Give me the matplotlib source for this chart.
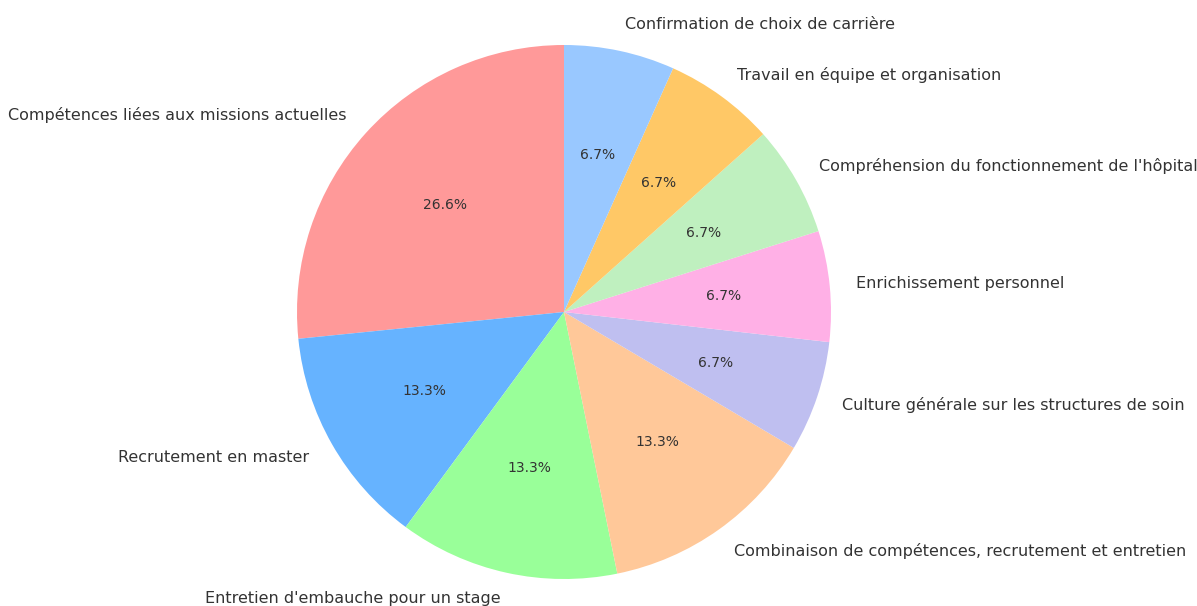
import matplotlib
matplotlib.use("Agg")
import matplotlib.pyplot as plt

labels = [
    "Compétences liées aux missions actuelles",
    "Recrutement en master",
    "Entretien d'embauche pour un stage",
    "Combinaison de compétences, recrutement et entretien",
    "Culture générale sur les structures de soin",
    "Enrichissement personnel",
    "Compréhension du fonctionnement de l'hôpital",
    "Travail en équipe et organisation",
    "Confirmation de choix de carrière",
]
values = [26.6, 13.3, 13.3, 13.3, 6.7, 6.7, 6.7, 6.7, 6.7]
colors = ["#ff9999", "#66b3ff", "#99ff99", "#ffc899", "#bfbff0",
          "#ffb0e6", "#bff0bf", "#ffc866", "#99c8ff"]

W, H = 1197, 606
cx, cy, R = 564, 312, 267

fig = plt.figure(figsize=(W / 100, H / 100), dpi=100)
ax = fig.add_axes([0, 0, 1, 1])
wedges, texts, autotexts = ax.pie(
    values, labels=labels, colors=colors, autopct="%1.1f%%",
    startangle=90, textprops={"color": "#333333"},
)
for t in texts:
    t.set_fontsize(11.5)
for t in autotexts:
    t.set_fontsize(10)
ax.set_aspect("equal")
ax.set_xlim(-cx / R, (W - cx) / R)
ax.set_ylim(-(H - cy) / R, cy / R)
ax.axis("off")
fig.savefig("out.png", dpi=100)
